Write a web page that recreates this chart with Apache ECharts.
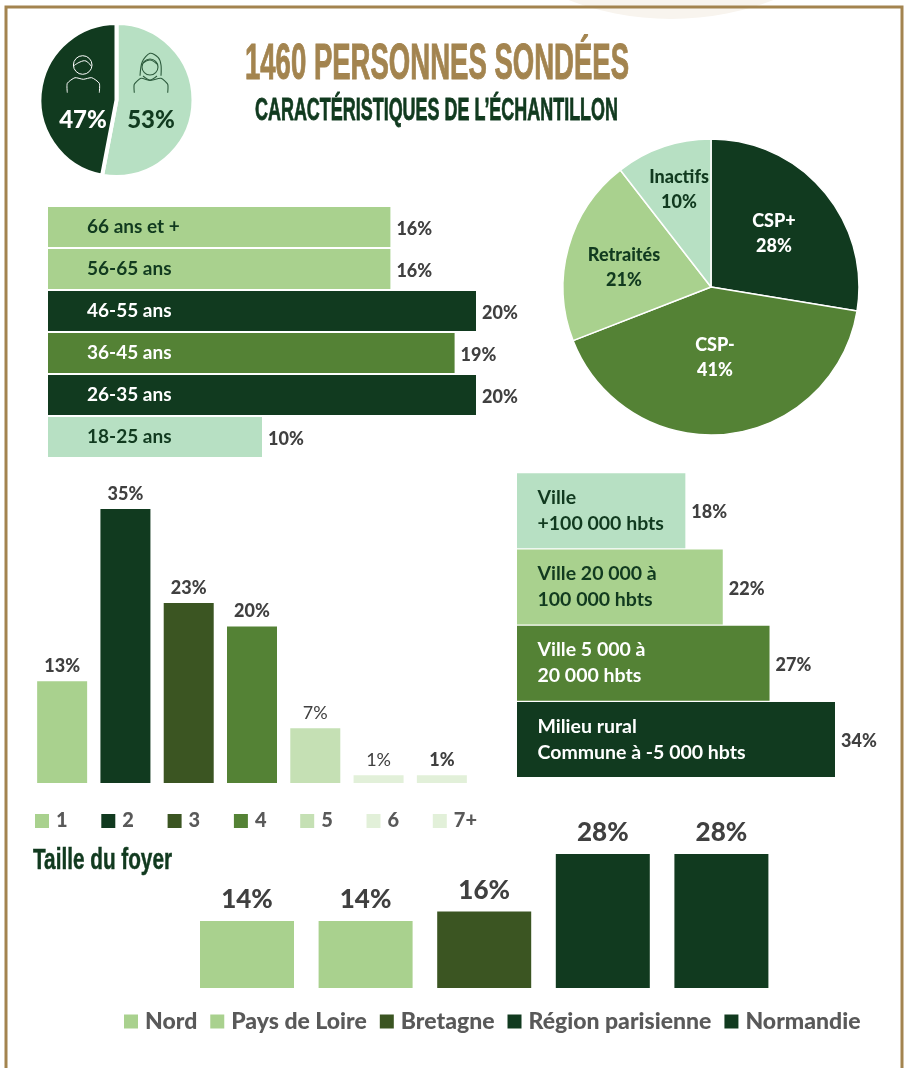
<!DOCTYPE html>
<html>
<head>
<meta charset="utf-8">
<style>
    html, body { margin: 0; padding: 0; background: #fff; }
    #main { width: 906px; height: 1068px; }
</style>
<script src="https://cdn.jsdelivr.net/npm/echarts@6/dist/echarts.min.js"></script>
</head>
<body>
<div id="main"></div>
<script>
    // data
    const genderNames = ['Femmes', 'Hommes'];
    const genderValues = [53, 47];

    const ageCategories = ['66 ans et +', '56-65 ans', '46-55 ans', '36-45 ans', '26-35 ans', '18-25 ans'];
    const ageValues = [16, 16, 20, 19, 20, 10];

    // slice sizes as measured on the pie, printed labels as they are written on it
    const cspNames = ['CSP+', 'CSP-', 'Retraités', 'Inactifs'];
    const cspValues = [27.6, 41.5, 20.4, 10.5];
    const cspLabels = ['28%', '41%', '21%', '10%'];

    const foyerCategories = ['1', '2', '3', '4', '5', '6', '7+'];
    const foyerValues = [13, 35, 23, 20, 7, 1, 1];

    const villeCategories = ['Ville\n+100 000 hbts', 'Ville 20 000 à\n100 000 hbts', 'Ville 5 000 à\n20 000 hbts', 'Milieu rural\nCommune à -5 000 hbts'];
    const villeValues = [18, 22, 27, 34];

    const regionCategories = ['Nord', 'Pays de Loire', 'Bretagne', 'Région parisienne', 'Normandie'];
    const regionValues = [14, 14, 16, 28, 28];

    // colours
    const DARK = '#113A1F';
    const GREEN = '#548235';
    const OLIVE = '#3B5522';
    const LIGHT = '#A9D18E';
    const MINT = '#B7E0C3';
    const PALE = '#C5E0B4';
    const PALER = '#E2F0D9';
    const GOLD = '#A3844F';
    const GREY = '#404040';
    const FONT = 'Lato';
    const TITLE_FONT = '"Liberation Sans"';

    const ageColors = [LIGHT, LIGHT, DARK, GREEN, DARK, MINT];
    const ageLabelColors = [DARK, DARK, '#fff', '#fff', '#fff', DARK];
    const foyerColors = [LIGHT, DARK, OLIVE, GREEN, PALE, PALER, PALER];
    const foyerWeights = [900, 900, 900, 900, 'normal', 'normal', 900];
    const villeColors = [MINT, LIGHT, GREEN, DARK];
    const villeLabelColors = [DARK, DARK, '#fff', '#fff'];
    const regionColors = [LIGHT, LIGHT, OLIVE, DARK, DARK];
    const cspColors = [DARK, GREEN, LIGHT, MINT];
    const cspLabelColors = ['#fff', '#fff', DARK, DARK];
    const cspLabelPos = [[774, 234], [715, 358], [624, 268], [679, 190]];
    const genderLabelPos = [[151, 120], [83, 120]];

    // one series per category so that the legend can list them
    function stackedColumns(names, values, colors, xAxisIndex, yAxisIndex, barWidth, labelSize, distance, weights) {
        return names.map(function (name, i) {
            return {
                name: name,
                type: 'bar',
                stack: 'total' + xAxisIndex,
                xAxisIndex: xAxisIndex,
                yAxisIndex: yAxisIndex,
                barWidth: barWidth,
                itemStyle: { color: colors[i] },
                label: {
                    show: true,
                    position: 'top',
                    distance: distance,
                    formatter: '{c}%',
                    fontFamily: FONT,
                    fontSize: labelSize,
                    fontWeight: weights ? weights[i] : 900,
                    color: GREY
                },
                data: values.map(function (v, j) { return j === i ? v : '-'; })
            };
        });
    }

    function hBars(values, colors, xAxisIndex, yAxisIndex, barWidth) {
        return {
            type: 'bar',
            xAxisIndex: xAxisIndex,
            yAxisIndex: yAxisIndex,
            barWidth: barWidth,
            label: {
                show: true,
                position: 'right',
                distance: 6,
                offset: [0, 2],
                formatter: '{c}%',
                fontFamily: FONT,
                fontSize: 18,
                fontWeight: 900,
                color: GREY
            },
            data: values.map(function (v, i) {
                return { value: v, itemStyle: { color: colors[i] } };
            })
        };
    }

    function hideAxis(extra) {
        return Object.assign({
            axisLine: { show: false },
            axisTick: { show: false },
            axisLabel: { show: false },
            splitLine: { show: false }
        }, extra);
    }

    function insideCategoryAxis(gridIndex, data, colors, margin, fontSize, lineHeight, paddingTop) {
        return {
            type: 'category',
            gridIndex: gridIndex,
            inverse: true,
            data: data,
            z: 10,
            axisLine: { show: false },
            axisTick: { show: false },
            axisLabel: {
                inside: true,
                margin: margin,
                interval: 0,
                fontFamily: FONT,
                fontSize: fontSize,
                fontWeight: 'bold',
                lineHeight: lineHeight,
                padding: [paddingTop, 0, 0, 0],
                align: 'left',
                color: function (value, index) { return colors[index]; }
            }
        };
    }

    // the titles use a condensed face: squeeze a normal one to the measured width
    const measure = document.createElement('canvas').getContext('2d');
    function condensedText(text, font, x, y, width, color, weight) {
        measure.font = font;
        return {
            type: 'text',
            x: x,
            y: y,
            scaleX: width / measure.measureText(text).width,
            style: { text: text, font: font, fill: color, stroke: color, lineWidth: weight, verticalAlign: 'middle' }
        };
    }

    const ink = { stroke: '#fff', fill: null, lineWidth: 1 };
    const inkDark = { stroke: '#2C5A3C', fill: null, lineWidth: 1.1 };

    function icon(points, style, smooth) {
        return { type: 'polyline', z: 20, shape: { points: points, smooth: smooth }, style: style };
    }

    const myChart = echarts.init(document.getElementById('main'), null, { renderer: 'canvas' });
    myChart.setOption({
        animation: false,
        backgroundColor: '#fff',
        grid: [
            { left: 48, top: 206, width: 428, height: 252 },
            { left: 30.5, top: 509, width: 443, height: 274 },
            { left: 517, top: 472.5, width: 318, height: 305 },
            { left: 187.7, top: 854, width: 593, height: 134 }
        ],
        xAxis: [
            hideAxis({ type: 'value', gridIndex: 0, min: 0, max: 20 }),
            hideAxis({ type: 'category', gridIndex: 1, data: foyerCategories }),
            hideAxis({ type: 'value', gridIndex: 2, min: 0, max: 34 }),
            hideAxis({ type: 'category', gridIndex: 3, data: regionCategories })
        ],
        yAxis: [
            insideCategoryAxis(0, ageCategories, ageLabelColors, 39, 19, 20, 6),
            hideAxis({ type: 'value', gridIndex: 1, min: 0, max: 35 }),
            insideCategoryAxis(2, villeCategories, villeLabelColors, 20.5, 19.5, 26, 7),
            hideAxis({ type: 'value', gridIndex: 3, min: 0, max: 28 })
        ],
        legend: [
            {
                data: foyerCategories,
                left: 35,
                top: 811,
                padding: 0,
                itemWidth: 14,
                itemHeight: 14,
                itemGap: 33.7,
                icon: 'rect',
                selectedMode: false,
                textStyle: { fontFamily: FONT, fontSize: 20, fontWeight: 900, color: '#595959', padding: [0, 0, 0, 2] }
            },
            {
                data: regionCategories,
                left: 124,
                top: 1010,
                padding: 0,
                itemWidth: 14,
                itemHeight: 14,
                itemGap: 13,
                icon: 'rect',
                selectedMode: false,
                textStyle: { fontFamily: FONT, fontSize: 23, fontWeight: 900, color: '#595959', padding: [0, 0, 0, 2] }
            }
        ],
        series: [
            {
                type: 'pie',
                center: [116.5, 100],
                radius: 77,
                startAngle: 90,
                itemStyle: { borderColor: '#fff', borderWidth: 4 },
                labelLine: { show: false },
                label: {
                    position: 'inside',
                    formatter: '{c}%',
                    fontFamily: FONT,
                    fontSize: 24,
                    fontWeight: 900,
                    color: DARK
                },
                labelLayout: function (params) {
                    const p = genderLabelPos[params.dataIndex];
                    return { x: p[0], y: p[1], align: 'center', verticalAlign: 'middle' };
                },
                data: genderNames.map(function (n, i) {
                    return {
                        name: n,
                        value: genderValues[i],
                        itemStyle: { color: i === 0 ? MINT : DARK },
                        label: { color: i === 0 ? DARK : '#fff' }
                    };
                })
            },
            {
                type: 'pie',
                center: [711, 287],
                radius: 148,
                startAngle: 90,
                itemStyle: { borderColor: '#fff', borderWidth: 1.5 },
                labelLine: { show: false },
                label: {
                    position: 'inside',
                    formatter: function (params) { return params.name + '\n' + cspLabels[params.dataIndex]; },
                    fontFamily: FONT,
                    fontSize: 18,
                    fontWeight: 900,
                    lineHeight: 25
                },
                labelLayout: function (params) {
                    const p = cspLabelPos[params.dataIndex];
                    return { x: p[0], y: p[1], align: 'center', verticalAlign: 'middle' };
                },
                data: cspNames.map(function (n, i) {
                    return {
                        name: n,
                        value: cspValues[i],
                        itemStyle: { color: cspColors[i] },
                        label: { color: cspLabelColors[i] }
                    };
                })
            },
            hBars(ageValues, ageColors, 0, 0, 40),
            hBars(villeValues, villeColors, 2, 2, 75)
        ].concat(
            stackedColumns(foyerCategories, foyerValues, foyerColors, 1, 1, 50, 18, 6, foyerWeights),
            stackedColumns(regionCategories, regionValues, regionColors, 3, 3, 94, 26, 8)
        ),
        graphic: [
            // top decoration and frame
            { type: 'circle', silent: true, z: 0, shape: { cx: 671, cy: -267, r: 286 }, style: { fill: '#F8F4EE' } },
            { type: 'polyline', silent: true, z: 1, shape: { points: [[6, 1068], [6, 7], [902, 7], [902, 1068]] }, style: { stroke: GOLD, lineWidth: 3, fill: null } },
            // titles
            condensedText('1460 PERSONNES SONDÉES', 'bold 50px ' + TITLE_FONT, 245, 65, 384, GOLD, 1),
            condensedText('CARACTÉRISTIQUES DE L’ÉCHANTILLON', 'bold 31px ' + TITLE_FONT, 255, 111, 363, DARK, 0.8),
            condensedText('Taille du foyer', 'bold 30px ' + TITLE_FONT, 33, 861, 139, DARK, 0.5),
            // man icon
            { type: 'circle', z: 20, shape: { cx: 82.7, cy: 65, r: 9.3 }, style: ink },
            icon([[73.5, 66], [80, 62], [86, 61], [91, 66]], ink, 0.4),
            icon([[67.3, 92.7], [67.3, 83.3], [75, 77.7], [83.3, 79.3], [91.7, 77.7], [99.3, 83.3], [99.3, 92.7]], ink, 0.2),
            // woman icon
            { type: 'circle', z: 20, shape: { cx: 150, cy: 67, r: 8 }, style: inkDark },
            icon([[140, 75.7], [142.3, 61.7], [150, 53.3], [158.3, 57.7], [161, 65], [161, 75.7]], inkDark, 0.3),
            icon([[143, 63], [150, 60], [157, 64]], inkDark, 0.4),
            icon([[143, 76], [150, 80], [157, 76]], inkDark, 0.3),
            icon([[134.3, 92.7], [134.3, 84.3], [141, 78.3], [150, 80.5], [161, 78.3], [167.7, 84.3], [167.7, 92.7]], inkDark, 0.2)
        ]
    });
</script>
</body>
</html>
